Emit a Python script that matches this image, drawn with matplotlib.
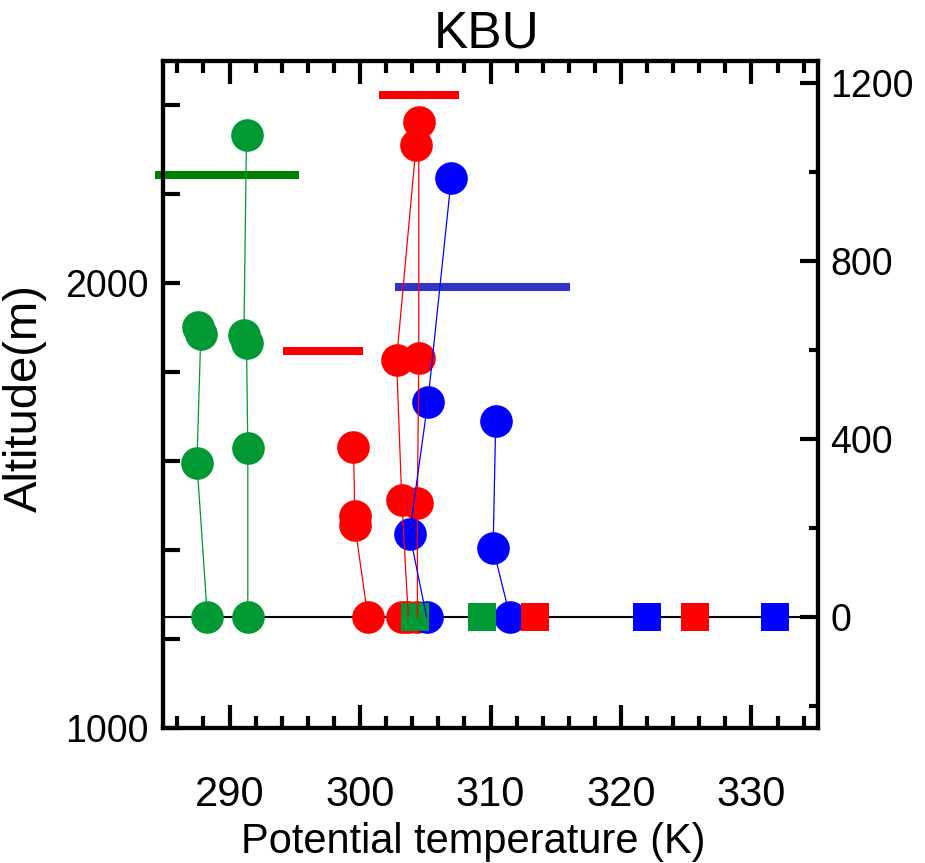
import matplotlib
matplotlib.use("Agg")
import matplotlib.pyplot as plt
from matplotlib import font_manager
from matplotlib.ticker import MultipleLocator, FixedLocator

# ==========================================
# 1. DATA (potential temperature K, height above ground m)
# ==========================================
green_k_1 = [288.3, 287.5, 287.8, 287.6]
green_z_1 = [0, 347, 637, 652]
green_k_2 = [291.4, 291.4, 291.3, 291.1, 291.3]
green_z_2 = [0, 379, 615, 634, 1083]

red_k_1 = [300.6, 299.6, 299.6, 299.5]
red_z_1 = [0, 207, 227, 383]
red_k_2 = [303.7, 303.2, 302.8, 304.3]
red_z_2 = [0, 263, 578, 1061]
red_k_3 = [304.4, 304.4, 304.5, 304.5]
red_z_3 = [0, 255, 583, 1113]
red_k_extra = [303.2]
red_z_extra = [0]

blue_k_1 = [305.1, 303.8, 305.2, 307.0]
blue_z_1 = [0, 187, 484, 988]
blue_k_2 = [311.5, 310.2, 310.4]
blue_z_2 = [0, 154, 441]

# surface squares
green_sfc_k = [304.2, 309.35]
red_sfc_k = [313.4, 325.7]
blue_sfc_k = [322.0, 331.8]

# horizontal bars (height, start K, end K)
green_bar = (993, 284.3, 295.3)
red_bars_z = [1173, 598]
red_bars_x0 = [301.45, 294.1]
red_bars_x1 = [307.6, 300.2]
blue_bar = (741, 302.7, 316.1)

GREEN = '#009933'
GREEN_BAR = '#008000'
RED = '#ff0000'
BLUE = '#0000ff'
BLUE_BAR = '#3333cc'

# ==========================================
# 2. FONTS
# ==========================================
plt.rcParams['font.family'] = 'Liberation Sans'
try:
    font_manager.findfont('Liberation Sans Narrow', fallback_to_default=False)
    narrow = 'Liberation Sans Narrow'
    xsize = 36
except Exception:
    narrow = 'Liberation Sans'
    xsize = 30

# ==========================================
# 3. PLOT
# ==========================================
W, H = 925, 863
fig = plt.figure(figsize=(W / 100, H / 100), dpi=100)
ax = fig.add_axes([163 / W, 1 - 728 / H, (818 - 163) / W, (728 - 61) / H])
ax.set_xlim(284.9, 335.1)
ax.set_ylim(1000, 2500)
ax2 = ax.twinx()
ax2.set_ylim(-250, 1250)

ax2.axhline(0, color='black', lw=1.5, zorder=1)

# bars
ax2.hlines(green_bar[0], green_bar[1], green_bar[2], colors=GREEN_BAR, lw=5.8,
           capstyle='butt', clip_on=False, zorder=2)
ax2.hlines(red_bars_z, red_bars_x0, red_bars_x1, colors=RED, lw=5.8,
           capstyle='butt', zorder=2)
ax2.hlines(blue_bar[0], blue_bar[1], blue_bar[2], colors=BLUE_BAR, lw=5.8,
           capstyle='butt', zorder=2)

profiles = [
    (green_k_1, green_z_1, GREEN), (green_k_2, green_z_2, GREEN),
    (red_k_1, red_z_1, RED), (red_k_2, red_z_2, RED), (red_k_3, red_z_3, RED),
    (red_k_extra, red_z_extra, RED),
    (blue_k_1, blue_z_1, BLUE), (blue_k_2, blue_z_2, BLUE),
]
for k, z, c in profiles:
    ax2.plot(k, z, 'o', ms=23.5, mew=0, color=c, zorder=3)
    ax2.plot(k, z, '-', lw=0.9, color=c, zorder=6)

for k, c in [(green_sfc_k, GREEN), (red_sfc_k, RED), (blue_sfc_k, BLUE)]:
    ax2.plot(k, [0] * len(k), 's', ms=20, mew=0, color=c, zorder=4)

# ==========================================
# 4. AXES STYLE
# ==========================================
for a in (ax, ax2):
    for s in a.spines.values():
        s.set_linewidth(3)

ax.xaxis.set_major_locator(MultipleLocator(10))
ax.xaxis.set_minor_locator(MultipleLocator(2))
ax.tick_params(axis='x', which='both', direction='in', top=True, bottom=True, width=3)
ax.tick_params(axis='x', which='major', length=16.5, pad=34, labelsize=xsize)
ax.tick_params(axis='x', which='minor', length=8.5)
for lab in ax.get_xticklabels():
    lab.set_family(narrow)

ax.yaxis.set_major_locator(FixedLocator([1000, 2000]))
ax.yaxis.set_minor_locator(MultipleLocator(200))
ax.tick_params(axis='y', which='both', direction='in', left=True, right=False,
               length=12, width=3, labelsize=27, pad=10)

ax2.yaxis.set_major_locator(MultipleLocator(400))
ax2.yaxis.set_minor_locator(MultipleLocator(200))
ax2.tick_params(axis='y', which='both', direction='in', right=True, left=False,
                width=3, labelsize=27, pad=9)
ax2.tick_params(axis='y', which='major', length=13)
ax2.tick_params(axis='y', which='minor', length=6.5)

fig.text(487 / W, 1 - 48 / H, 'KBU', ha='center', va='baseline', fontsize=37)
fig.text(473 / W, 1 - 853 / H, 'Potential temperature (K)', ha='center',
         va='baseline', fontsize=xsize, family=narrow)
fig.text(25 / W, 1 - 398 / H, 'Altitude(m)', ha='center', va='center',
         rotation=90, fontsize=34)

plt.savefig('out.png', dpi=100)
